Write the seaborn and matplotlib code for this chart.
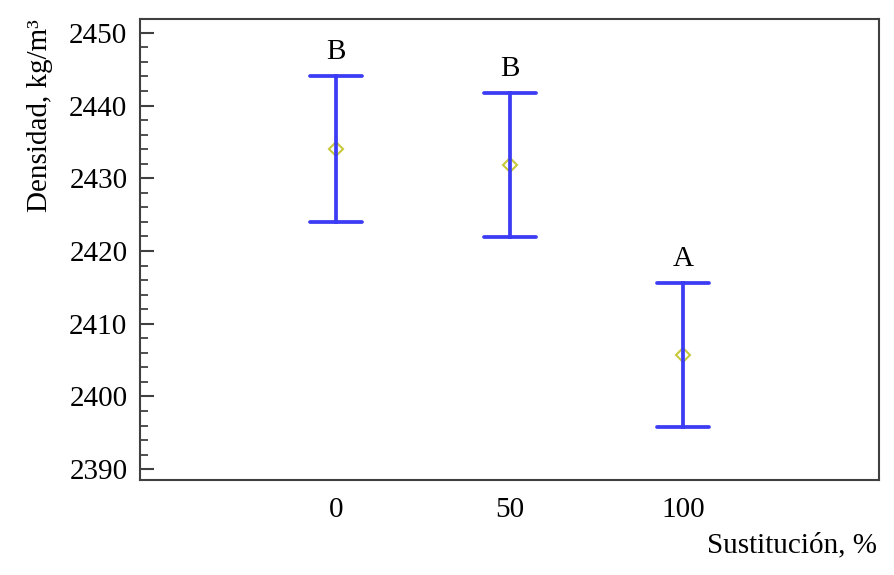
import matplotlib
matplotlib.use("Agg")
import matplotlib.pyplot as plt
import seaborn as sns
import numpy as np
import pandas as pd
from matplotlib.ticker import MultipleLocator

# Data
groups = ["0", "50", "100"]
means = [2434.0, 2431.8, 2405.7]
half_width = [10.0, 9.9, 9.95]
letters = ["B", "B", "A"]

# long table: lower limit, mean, upper limit per group -> pi 100 gives the interval
rows = []
for g, m, h in zip(groups, means, half_width):
    for v in (m - h, m, m + h):
        rows.append({"Sustitucion": g, "Densidad": v})
df = pd.DataFrame(rows)

sns.set_style("white")
plt.rcParams["font.family"] = ["Liberation Serif", "DejaVu Serif"]

fig = plt.figure(figsize=(8.95, 5.75), dpi=100)
ax = fig.add_axes([0.1564, 0.165, 0.826, 0.802])

sns.pointplot(
    data=df, x="Sustitucion", y="Densidad", order=groups,
    estimator="mean", errorbar=("pi", 100), capsize=0.3,
    color="#3c3cf5", linestyle="none", marker="D", markersize=7,
    markerfacecolor="none", markeredgecolor="#c8c83c", markeredgewidth=1.5,
    err_kws={"linewidth": 2.7, "color": "#3c3cf5"}, ax=ax,
)

# letters above each upper cap
for i, (m, h, lab) in enumerate(zip(means, half_width, letters)):
    ax.annotate(lab, xy=(i, m + h), xytext=(0, 8), textcoords="offset points",
                ha="center", va="bottom", fontsize=21, color="black")

ax.set_xlim(-1.13, 3.13)
ax.set_ylim(2388.5, 2451.9)
ax.yaxis.set_major_locator(MultipleLocator(10))
ax.yaxis.set_minor_locator(MultipleLocator(2))
ax.tick_params(axis="y", which="major", direction="in", length=10, width=1.5,
               color="#404040", labelsize=21, labelcolor="black", pad=9, left=True)
ax.tick_params(axis="y", which="minor", direction="in", length=5.5, width=1.3,
               color="#404040", left=True)
ax.tick_params(axis="x", length=0, labelsize=21, labelcolor="black", pad=12)

for s in ax.spines.values():
    s.set_visible(True)
    s.set_color("#404040")
    s.set_linewidth(1.5)

ax.set_ylabel("Densidad, kg/m³", fontsize=21, color="black")
ax.yaxis.set_label_coords(-0.118, 0.79)
ax.set_xlabel("Sustitución, %", fontsize=21, loc="right", color="black")
ax.xaxis.set_label_coords(0.997, -0.113)

fig.savefig("out.png", dpi=100)
